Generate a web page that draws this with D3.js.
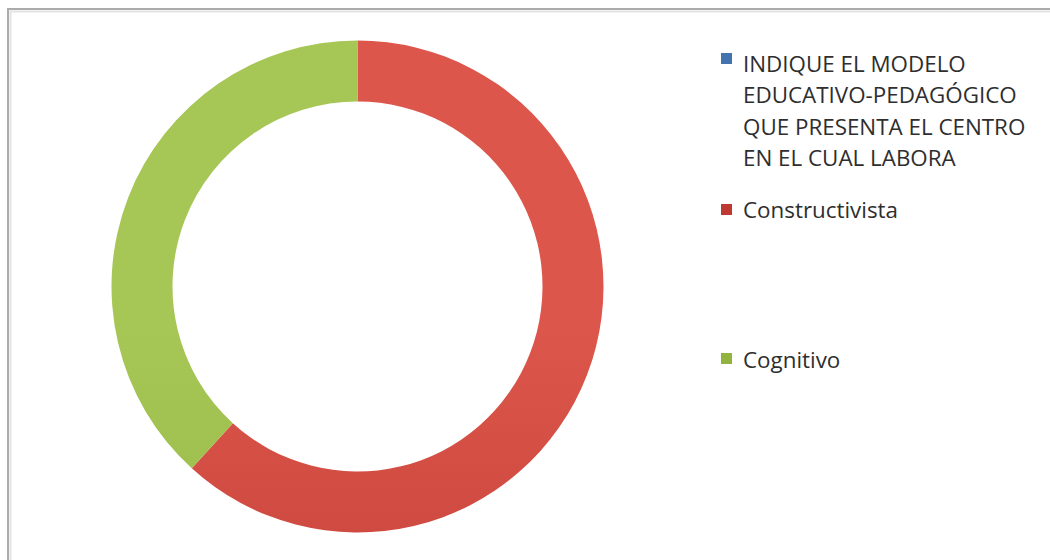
<!DOCTYPE html>
<html>
<head>
<meta charset="utf-8">
<script src="https://cdn.jsdelivr.net/npm/d3@7"></script>
<style>
  html, body { margin: 0; padding: 0; background: #ffffff; }
  svg { display: block; }
</style>
</head>
<body>
<svg id="chart" width="1050" height="560"></svg>
<script>
// Series of the doughnut (first entry is the question header, with no share)
const categories = [
  "INDIQUE EL MODELO EDUCATIVO-PEDAGÓGICO QUE PRESENTA EL CENTRO EN EL CUAL LABORA",
  "Constructivista",
  "Cognitivo"
];
const values = [0, 21, 13];
// Header label broken into the lines shown in the legend
const legendLines = [
  ["INDIQUE EL MODELO", "EDUCATIVO-PEDAGÓGICO", "QUE PRESENTA EL CENTRO", "EN EL CUAL LABORA"],
  ["Constructivista"],
  ["Cognitivo"]
];
const colorsTop = ["#5b8bc6", "#dc564b", "#a6c656"];
const colorsBottom = ["#4373ae", "#bd3931", "#90b43e"];

const svg = d3.select("#chart");
const W = 1050, H = 560;

// frame of the chart area (left and top edges visible)
svg.append("rect")
  .attr("x", 8).attr("y", 9)
  .attr("width", W + 20).attr("height", H + 20)
  .attr("fill", "#ffffff")
  .attr("stroke", "#ababab")
  .attr("stroke-width", 2);
svg.append("path")
  .attr("d", `M10.5,${H + 10} V11.5 H${W + 10}`)
  .attr("fill", "none")
  .attr("stroke", "#e4e4e4")
  .attr("stroke-width", 2);

const cx = 357.5, cy = 286.5;
const outerR = 246, innerR = 185;

const defs = svg.append("defs");
categories.forEach((c, i) => {
  const g = defs.append("linearGradient")
    .attr("id", "grad" + i)
    .attr("gradientUnits", "userSpaceOnUse")
    .attr("x1", 0).attr("y1", cy - outerR)
    .attr("x2", 0).attr("y2", cy + outerR);
  g.append("stop").attr("offset", "0%").attr("stop-color", colorsTop[i]);
  g.append("stop").attr("offset", "100%").attr("stop-color", colorsBottom[i]);
});

const pie = d3.pie().sort(null).value(d => d);
const arc = d3.arc().innerRadius(innerR).outerRadius(outerR);

svg.append("g")
  .attr("transform", `translate(${cx},${cy})`)
  .selectAll("path")
  .data(pie(values))
  .join("path")
  .attr("d", arc)
  .attr("fill", (d, i) => `url(#grad${i})`)
  .attr("stroke", "none");

// legend
const legend = svg.append("g")
  .attr("font-family", "'Open Sans', 'Noto Sans', sans-serif")
  .attr("fill", "#2e2e2e");

const baseFont = 20;
const legendX = 743;
const firstBaselines = [72, 218, 368];
const lineStep = 31.3;
const squareTops = [53, 204, 353];

legendLines.forEach((lines, i) => {
  legend.append("rect")
    .attr("x", 721).attr("y", squareTops[i])
    .attr("width", 11).attr("height", 11)
    .attr("fill", colorsBottom[i]);
  const t = legend.append("text")
    .attr("x", legendX).attr("y", firstBaselines[i])
    .attr("font-size", baseFont);
  lines.forEach((ln, j) => {
    t.append("tspan")
      .attr("x", legendX)
      .attr("y", firstBaselines[i] + j * lineStep)
      .text(ln);
  });
});

// size legend text so the widest line spans its column width
const probe = legend.append("text").attr("font-size", baseFont).text(legendLines[0][1]);
const w = probe.node().getComputedTextLength();
probe.remove();
const fs = baseFont * 274 / w;
legend.selectAll("text").attr("font-size", fs);
</script>
</body>
</html>
